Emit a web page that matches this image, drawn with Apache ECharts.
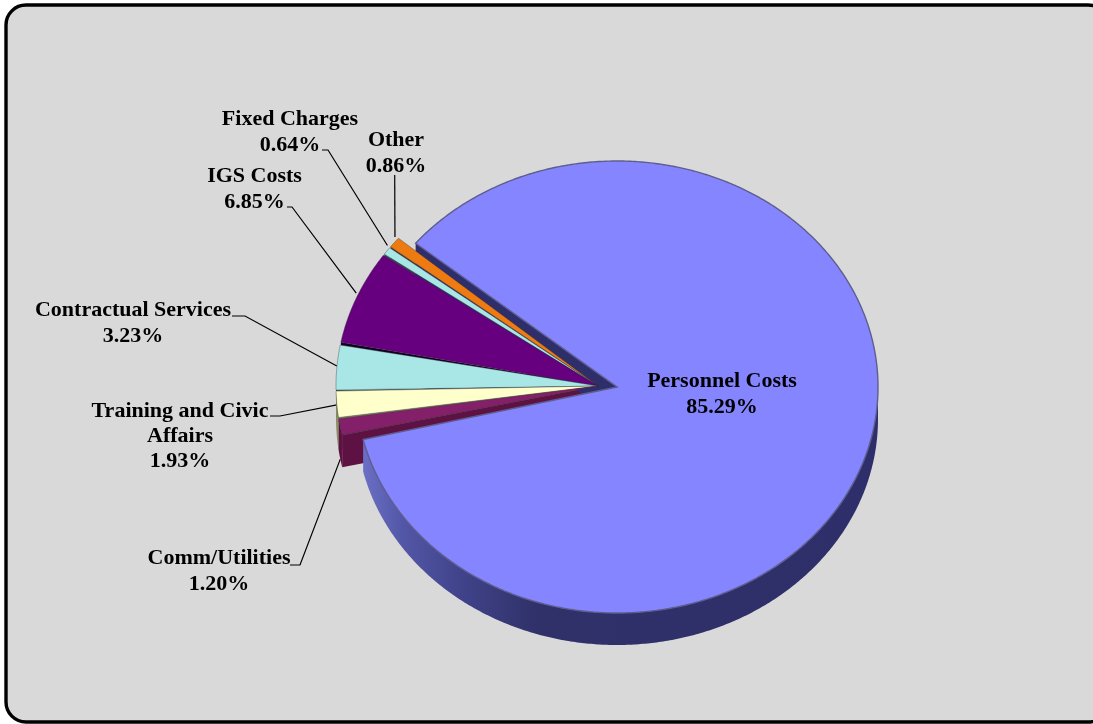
<!DOCTYPE html>
<html><head><meta charset="utf-8">
<style>html,body{margin:0;padding:0;background:#fff}#c{width:1093px;height:724px}</style>
<script src="https://cdn.jsdelivr.net/npm/echarts@6/dist/echarts.min.js"></script>
</head><body><div id="c"></div>
<script>
// ---- data (counter-clockwise on screen, starting from the upper edge of the cut-out wedge)
const categories = ['Other','Fixed Charges','IGS Costs','Contractual Services','Training and Civic\nAffairs','Comm/Utilities','Personnel Costs'];
const shares = [0.86,0.64,6.85,3.23,1.93,1.20,85.29];
// ---- styles
const topColors  = ['#EE7A12','#A9E7E7','#66007F','#A9E7E7','#FFFFCC','#84206A','#8585FF'];
const wallColors = ['#4a3520','#2f5454','#120020','#3a5a5a','#8d8d66','#5e1243','#2e2f6a'];
const gapDeg     = [0.35,0.35,0.7,0.3,0.3,0.1,0];
// ---- layout
const HUB_START = 139.6, MAIN_START = 140.5, DEPTH = 32;
const HUB = {cx:598, cy:386, rx:262, ry:228};
const MAIN = {cx:617, cy:387, rx:261, ry:226};
const FONT = 'bold 22px "Liberation Serif","Times New Roman",serif';
// label centre x, first line y, leader anchors
const labelX = [396,290,254.5,133,180,219,722];
const labelY = [140,119,176,310,411,558,381];
const labelLH = [26,26,26,26,25,26,26];
const leaderFrom = [[394.7,175],[322,150],[287,207],[232,316],[270,416],[290,565],null];
const leaderElbow = [null,[328,150],[292,207],[245,316],[280,416],[300,565],null];
const leaderNudge = [[1,-6],[1,-6],[0,-5],[0,-2],[0,0],[0,32]];

const total = shares.reduce((a,b)=>a+b,0);
const lastIdx = categories.length-1;
function sweep(i){
  if(i===lastIdx){
    const s=MAIN_START+(1-shares[i]/total)*360;
    return [s, s+shares[i]/total*360];
  }
  let a = HUB_START;
  for(let k=0;k<i;k++) a += shares[k]/total*360;
  return [a, a+shares[i]/total*360];
}
const geom = i => i===lastIdx ? MAIN : HUB;
function pt(g,deg,dy){
  const r = deg*Math.PI/180;
  return [g.cx+g.rx*Math.cos(r), g.cy-g.ry*Math.sin(r)+(dy||0)];
}
function arc(g,a,b,dy){
  const out=[]; const n=Math.max(2,Math.ceil(Math.abs(b-a)*2));
  for(let k=0;k<=n;k++) out.push(pt(g,a+(b-a)*k/n,dy));
  return out;
}
function wallFill(i){
  if(i!==lastIdx) return wallColors[i];
  return {type:'linear',global:true,x:362,y:0,x2:878,y2:0,colorStops:[
    {offset:0,color:'#6b70c6'},{offset:0.08,color:'#5256a6'},{offset:0.2,color:'#3f4288'},
    {offset:0.34,color:'#303169'},{offset:1,color:'#2e2f6a'}]};
}
function renderWalls(p){
  const i=p.dataIndex, g=geom(i), [a,b]=sweep(i), kids=[];
  // leader line
  if(leaderFrom[i]){
    const c=pt(g,(a+b)/2,0), end=[c[0]+leaderNudge[i][0],c[1]+leaderNudge[i][1]], pts=[leaderFrom[i]];
    if(leaderElbow[i]) pts.push(leaderElbow[i]);
    pts.push(end);
    kids.push({type:'polyline',shape:{points:pts},style:{stroke:'#000',lineWidth:1.2,fill:null}});
  }
  // outer rim (only the part facing the viewer)
  const lo=Math.max(a,180), hi=Math.min(b,360);
  if(hi>lo){
    const pts=arc(g,lo,hi,0).concat(arc(g,hi,lo,DEPTH));
    kids.push({type:'polygon',shape:{points:pts},style:{fill:wallFill(i)}});
  }
  // cut wall at the trailing edge (also shows through the thin gap to the next slice)
  const edge=b-gapDeg[i], e=pt(g,edge,0), e2=pt(g,edge,DEPTH);
  kids.push({type:'polygon',shape:{points:[[g.cx,g.cy],e,e2,[g.cx,g.cy+DEPTH]]},
    style:{fill:wallColors[i]}});
  return {type:'group',children:kids};
}
function renderTops(p){
  const i=p.dataIndex, g=geom(i), [a,b]=sweep(i);
  const pts=[[g.cx,g.cy]].concat(arc(g,a,b-gapDeg[i],0));
  const isMain=i===lastIdx;
  const lines=(categories[i]+'\n'+shares[i].toFixed(2)+'%').split('\n');
  const kids=[{type:'polygon',shape:{points:pts},style:{fill:topColors[i],
    stroke:isMain?'#5e5e8e':'rgba(40,40,50,0.5)',lineWidth:isMain?1.4:0.7}}];
  lines.forEach((t,k)=>kids.push({type:'text',z2:10,style:{text:t,x:labelX[i],y:labelY[i]+k*labelLH[i],
    align:'center',verticalAlign:'middle',font:FONT,fill:'#000'}}));
  return {type:'group',children:kids};
}
const rows = categories.map((c,i)=>({name:c,value:shares[i]}));
const chart = echarts.init(document.getElementById('c'),null,{renderer:'canvas'});
chart.setOption({
  animation:false,
  backgroundColor:'#ffffff',
  graphic:[{type:'rect',z:-1,shape:{x:6,y:5,width:1102,height:717,r:20},
    style:{fill:'#D9D9D9',stroke:'#000',lineWidth:3.4}}],
  series:[
    {type:'custom',name:'walls',coordinateSystem:'none',silent:true,renderItem:renderWalls,data:rows,z:2},
    {type:'custom',name:'tops',coordinateSystem:'none',silent:true,renderItem:renderTops,data:rows,z:3}
  ]
});
</script></body></html>
